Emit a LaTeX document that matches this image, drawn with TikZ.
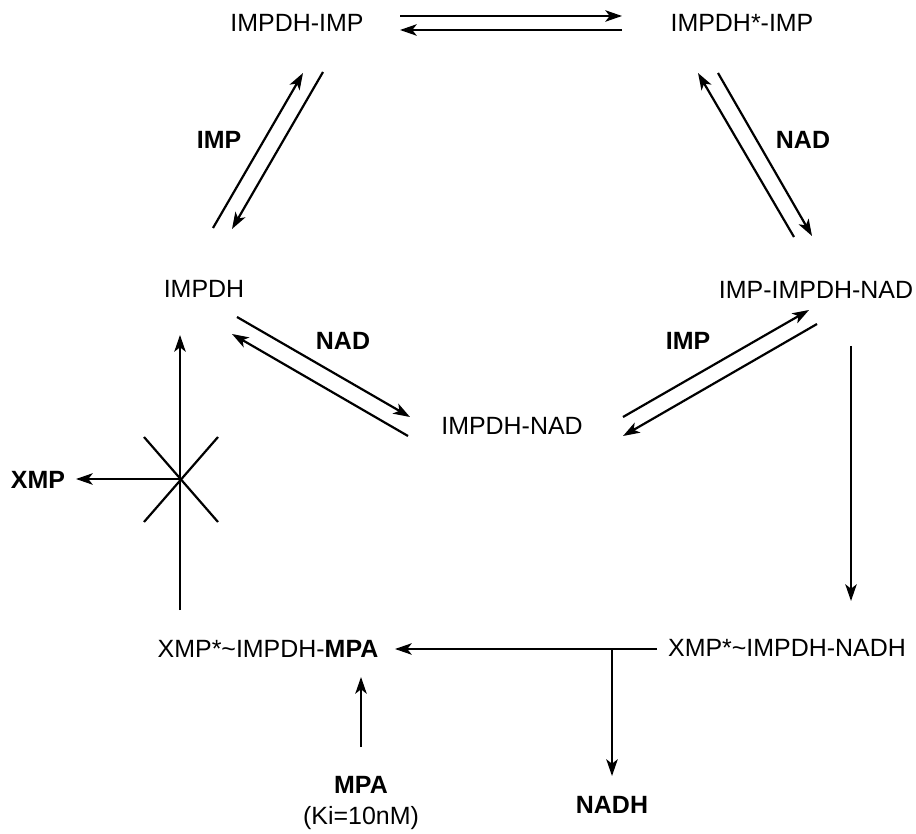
\documentclass[tikz,border=0pt]{standalone}
\usepackage{fontspec}
\setmainfont{Liberation Sans}
\usetikzlibrary{calc,arrows.meta}

\begin{document}
\begin{tikzpicture}[x=0.02cm,y=-0.02cm,
  every node/.style={inner sep=0pt, text height=0.72em, text depth=0pt,
    font=\fontsize{14.2pt}{17pt}\selectfont},
  rxn/.style={line width=1.25pt, -{Stealth[length=9.5pt,width=6.5pt,inset=2.5pt]}},
  bar/.style={line width=1.25pt},
  agent/.style={font=\fontsize{14.2pt}{17pt}\selectfont\bfseries}]

  \useasboundingbox (0,0) rectangle (916,834);

  % species
  \node (eimp)    at (297,25)  {IMPDH-IMP};
  \node (estimp)  at (742,25)  {IMPDH*-IMP};
  \node (e)       at (204,291) {IMPDH};
  \node (impenad) at (816,292) {IMP-IMPDH-NAD};
  \node (enad)    at (512,428) {IMPDH-NAD};
  \node (xnadh)   at (787,650) {XMP*\textasciitilde IMPDH-NADH};
  \node (xmpa)    at (268,651) {XMP*\textasciitilde IMPDH-\textbf{MPA}};
  \node[agent] (mpa)  at (361,787) {MPA};
  \node (ki)      at (361,818) {(Ki=10nM)};
  \node[agent] (nadh) at (612,807) {NADH};
  \node[agent] (xmp)  at (38,482)  {XMP};

  % substrates on the arrows
  \node[agent] (imp1) at (219,142) {IMP};
  \node[agent] (nad1) at (803,142) {NAD};
  \node[agent] (nad2) at (343,343) {NAD};
  \node[agent] (imp2) at (688,343) {IMP};

  % arrow ends
  \coordinate (a1) at (400,16);  \coordinate (a2) at (622,16);
  \coordinate (a3) at (622,30);  \coordinate (a4) at (400,30);
  \coordinate (b1) at (213,228); \coordinate (b2) at (303,73);
  \coordinate (b3) at (323,72);  \coordinate (b4) at (232,229);
  \coordinate (c1) at (794,237); \coordinate (c2) at (698,73);
  \coordinate (c3) at (718,73);  \coordinate (c4) at (812,236);
  \coordinate (d1) at (237,317); \coordinate (d2) at (410,417);
  \coordinate (d3) at (408,436); \coordinate (d4) at (232,334);
  \coordinate (f1) at (623,417); \coordinate (f2) at (809,310);
  \coordinate (f3) at (817,324); \coordinate (f4) at (623,436);
  \coordinate (g1) at (851,346); \coordinate (g2) at (851,601);
  \coordinate (h1) at (657,649); \coordinate (h2) at (395,649);
  \coordinate (h3) at (612,649); \coordinate (h4) at (612,776);
  \coordinate (m1) at (361,747); \coordinate (m2) at (361,677);
  \coordinate (v1) at (180,610); \coordinate (v2) at (180,335);
  \coordinate (x0) at (180,479); \coordinate (x1) at (76,479);

  % reversible steps
  \draw[rxn] (a1) -- (a2);
  \draw[rxn] (a3) -- (a4);
  \draw[rxn] (b1) -- (b2);
  \draw[rxn] (b3) -- (b4);
  \draw[rxn] (c1) -- (c2);
  \draw[rxn] (c3) -- (c4);
  \draw[rxn] (d1) -- (d2);
  \draw[rxn] (d3) -- (d4);
  \draw[rxn] (f1) -- (f2);
  \draw[rxn] (f3) -- (f4);

  % chemistry and release
  \draw[rxn] (g1) -- (g2);
  \draw[rxn] (h1) -- (h2);
  \draw[rxn] (h3) -- (h4);
  \draw[rxn] (m1) -- (m2);

  % blocked hydrolysis
  \draw[rxn] (v1) -- (v2);
  \draw[rxn] (x0) -- (x1);
  \draw[bar] ($(x0)+(-36,-42)$) -- ($(x0)+(38,43)$);
  \draw[bar] ($(x0)+(38,-42)$) -- ($(x0)+(-36,43)$);

\end{tikzpicture}
\end{document}
